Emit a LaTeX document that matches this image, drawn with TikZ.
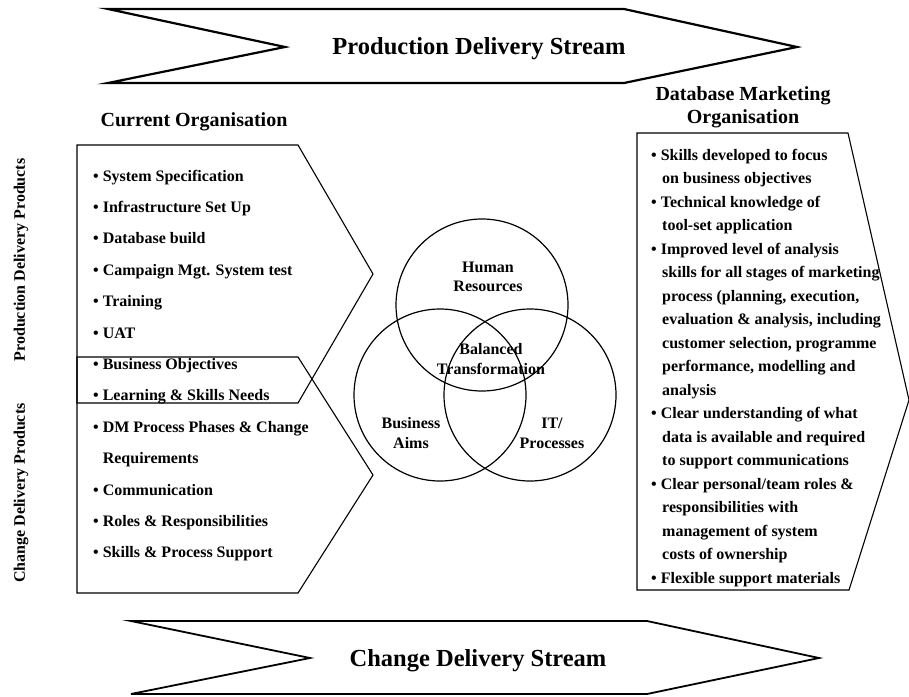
\documentclass[tikz,border=0pt]{standalone}
\usepackage{fontspec}
\setmainfont{Liberation Serif}
\begin{document}
\begin{tikzpicture}[x=1pt,y=-1pt,
  stream/.style={draw=black, line width=2.2pt, line join=miter},
  panel/.style={draw=black, line width=1.1pt, line join=miter},
  ring/.style={draw=black, line width=1.2pt, circle, minimum size=172pt, inner sep=0pt},
  banner/.style={inner sep=0pt, anchor=base, font=\bfseries\fontsize{24.5}{28}\selectfont},
  heading/.style={inner sep=0pt, anchor=base, font=\bfseries\fontsize{20}{23}\selectfont},
  item/.style={inner sep=0pt, anchor=base west, font=\bfseries\fontsize{16}{19}\selectfont},
  vlabel/.style={inner sep=0pt, anchor=base, font=\bfseries\fontsize{16}{19}\selectfont},
  side/.style={inner sep=0pt, rotate=90, font=\bfseries\fontsize{16}{19}\selectfont}
]
\useasboundingbox (0,0) rectangle (909,696);

% delivery streams
\draw[stream] (108,9) -- (624,9) -- (797,47) -- (624,83) -- (108,83) -- (285,47) -- cycle;
\node[banner] (prodstream) at (479,54) {Production Delivery Stream};
\draw[stream, line width=1.8pt] (131,621) -- (647,621) -- (819,658) -- (647,694) -- (131,694) -- (310,658) -- cycle;
\node[banner] (chgstream) at (478,666) {Change Delivery Stream};

% headings
\node[heading] (curorg) at (194,126) {Current Organisation};
\node[heading] (dbm1) at (743,100) {Database Marketing};
\node[heading] (dbm2) at (743,123) {Organisation};

% side labels
\node[side] (prodprod) at (21,260) {Production Delivery Products};
\node[side] (chgprod) at (21,493) {Change Delivery Products};

% current organisation panels
\draw[panel] (77,145) -- (298,145) -- (373,274) -- (298,403) -- (77,403) -- cycle;
\draw[panel] (77,357) -- (298,357) -- (373,475) -- (298,593) -- (77,593) -- cycle;

\foreach \t [count=\i] in {
  {\textbullet\ System Specification},
  {\textbullet\ Infrastructure Set Up},
  {\textbullet\ Database build},
  {\textbullet\ Campaign Mgt. System test},
  {\textbullet\ Training},
  {\textbullet\ UAT},
  {\textbullet\ Business Objectives},
  {\textbullet\ Learning \& Skills Needs},
  {\textbullet\ DM Process Phases \& Change},
  {\phantom{\textbullet\ }Requirements},
  {\textbullet\ Communication},
  {\textbullet\ Roles \& Responsibilities},
  {\textbullet\ Skills \& Process Support}}
  \node[item] (cur\i) at (93,{181+31.4*(\i-1)}) {\t};

% database marketing organisation panel
\draw[panel] (637,133) -- (848,133) -- (909,400) -- (849,590) -- (637,590) -- cycle;

\foreach \t/\xx [count=\i] in {
  {\textbullet\ Skills developed to focus}/651,
  {on business objectives}/662,
  {\textbullet\ Technical knowledge of}/651,
  {tool-set application}/662,
  {\textbullet\ Improved level of analysis}/651,
  {skills for all stages of marketing}/662,
  {process (planning, execution,}/662,
  {evaluation \& analysis, including}/662,
  {customer selection, programme}/662,
  {performance, modelling and}/662,
  {analysis}/662,
  {\textbullet\ Clear understanding of what}/651,
  {data is available and required}/662,
  {to support communications}/662,
  {\textbullet\ Clear personal/team roles \&}/651,
  {responsibilities with}/662,
  {management of system}/662,
  {costs of ownership}/662,
  {\textbullet\ Flexible support materials}/651}
  \node[item] (dbm\i) at (\xx,{160+23.5*(\i-1)}) {\t};

% balance of the three areas
\node[ring] (hr) at (482,305) {};
\node[ring] (ba) at (440,395) {};
\node[ring] (it) at (530,395) {};

\node[vlabel] (hr1) at (488,272) {Human};
\node[vlabel] (hr2) at (488,291) {Resources};
\node[vlabel] (bt1) at (491,354) {Balanced};
\node[vlabel] (bt2) at (491,374) {Transformation};
\node[vlabel] (ba1) at (411,428) {Business};
\node[vlabel] (ba2) at (411,448) {Aims};
\node[vlabel] (it1) at (552,428) {IT/};
\node[vlabel] (it2) at (552,448) {Processes};
\end{tikzpicture}
\end{document}
